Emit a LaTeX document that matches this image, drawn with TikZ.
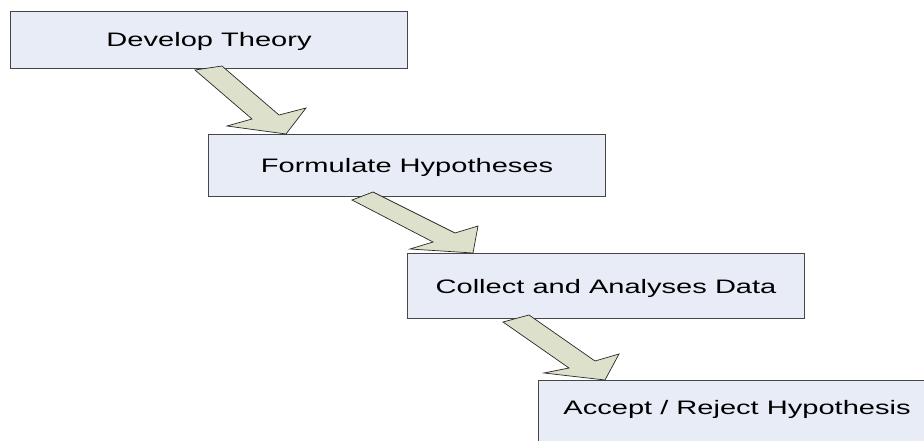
\documentclass[tikz,border=0pt]{standalone}
\usepackage{fontspec}
\usepackage{graphicx}
\setmainfont{Liberation Sans}
\definecolor{boxfill}{RGB}{231,236,247}
\definecolor{boxline}{RGB}{70,70,70}
\definecolor{arrfill}{RGB}{221,224,202}
\definecolor{arrline}{RGB}{40,40,40}
\newcommand{\widetext}[1]{\scalebox{1.49}[1]{#1}}
\begin{document}
\begin{tikzpicture}[x=1pt,y=-1pt,
  stepbox/.style={draw=boxline,fill=boxfill,line width=1.1pt,anchor=north west,
    inner sep=0pt,minimum width=397pt,text height=13.9pt,text depth=0pt,
    font=\fontsize{19.5}{20}\selectfont},
  blockarrow/.style={draw=arrline,fill=arrfill,line width=0.7pt,line join=miter}]
\useasboundingbox (0,0) rectangle (924,441);
\clip (0,0) rectangle (924,441);
\node[stepbox,minimum height=57pt] (b1) at (10,11) {\widetext{Develop Theory}};
\node[stepbox,minimum height=62pt] (b2) at (208,134) {\widetext{Formulate Hypotheses}};
\node[stepbox,minimum height=65pt] (b3) at (407,253) {\widetext{Collect and Analyses Data}};
\node[stepbox,minimum height=68pt,text depth=14pt] (b4) at (538,380) {\widetext{Accept / Reject Hypothesis}};
\draw[blockarrow] (195,70) -- (222,66) -- (279,115) -- (306,108) -- (286,134) -- (227,126) -- (252,119) -- cycle;
\draw[blockarrow] (352,200) -- (373,192) -- (455,233) -- (478,226) -- (473,253) -- (410,249) -- (433,242) -- cycle;
\draw[blockarrow] (503,322) -- (529,315) -- (595,361) -- (619,354) -- (605,380) -- (544,373) -- (569,368) -- cycle;
\end{tikzpicture}
\end{document}
